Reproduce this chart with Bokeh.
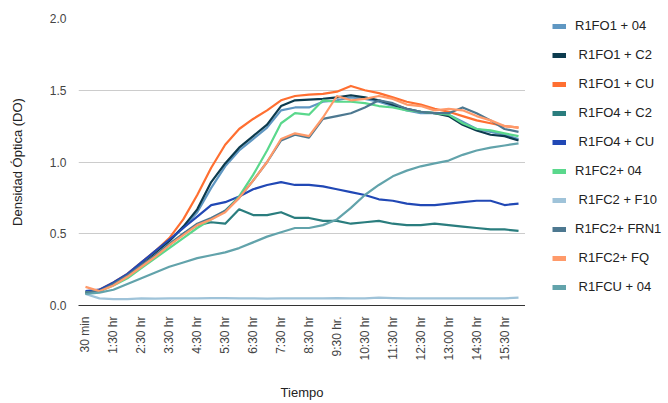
import math
from bokeh.plotting import figure
from bokeh.layouts import row
from bokeh.models import Legend, LegendItem, FixedTicker, NumeralTickFormatter, Range1d, ColumnDataSource
from bokeh.embed import file_html
from bokeh.resources import INLINE

# ---- data ----
TICK_LABELS = ["30 min", "1:30 hr", "2:30 hr", "3:30 hr", "4:30 hr", "5:30 hr", "6:30 hr",
               "7:30 hr", "8:30 hr", "9:30 hr.", "10:30 hr", "11:30 hr", "12:30 hr",
               "13:00 hr", "14:30 hr", "15:30 hr"]

SERIES_NAMES = ["R1FO1 + 04", " R1FO1 + C2", " R1FO1 + CU", " R1FO4 + C2", " R1FO4 + CU",
                "R1FC2+ 04", " R1FC2 + F10", "R1FC2+ FRN1", " R1FC2+ FQ", " R1FCU + 04"]

COLORS = ["#5f97c2", "#0c3b4e", "#ff6f31", "#2a7d7e", "#2148b5",
          "#5ad88c", "#9fc3d9", "#4d7890", "#ff9a6a", "#62a3ab"]

r1fo1_04 = [0.09, 0.10, 0.15, 0.21, 0.29, 0.37, 0.45, 0.54, 0.65, 0.82, 0.97, 1.08, 1.16, 1.24, 1.36, 1.38,
            1.38, 1.42, 1.43, 1.45, 1.44, 1.42, 1.39, 1.36, 1.34, 1.34, 1.33, 1.28, 1.23, 1.21, 1.19, 1.16]
r1fo1_c2 = [0.09, 0.10, 0.15, 0.21, 0.29, 0.37, 0.45, 0.55, 0.67, 0.86, 0.99, 1.10, 1.18, 1.26, 1.39, 1.43,
            1.435, 1.44, 1.45, 1.465, 1.45, 1.43, 1.40, 1.37, 1.35, 1.34, 1.32, 1.26, 1.22, 1.19, 1.18, 1.15]
r1fo1_cu = [0.09, 0.11, 0.16, 0.22, 0.30, 0.38, 0.47, 0.60, 0.77, 0.96, 1.12, 1.23, 1.30, 1.36, 1.43, 1.46,
            1.47, 1.475, 1.49, 1.53, 1.50, 1.48, 1.45, 1.42, 1.40, 1.37, 1.35, 1.32, 1.29, 1.27, 1.25, 1.24]
r1fo4_c2 = [0.08, 0.10, 0.15, 0.21, 0.28, 0.35, 0.42, 0.50, 0.56, 0.58, 0.57, 0.67, 0.63, 0.63, 0.65, 0.61,
            0.61, 0.59, 0.59, 0.57, 0.58, 0.59, 0.57, 0.56, 0.56, 0.57, 0.56, 0.55, 0.54, 0.53, 0.53, 0.52]
r1fo4_cu = [0.10, 0.11, 0.16, 0.22, 0.30, 0.38, 0.46, 0.54, 0.62, 0.70, 0.72, 0.76, 0.81, 0.84, 0.86, 0.84,
            0.84, 0.83, 0.81, 0.79, 0.77, 0.74, 0.73, 0.71, 0.70, 0.70, 0.71, 0.72, 0.73, 0.73, 0.70, 0.71]
r1fc2_04 = [0.09, 0.10, 0.14, 0.19, 0.26, 0.33, 0.40, 0.47, 0.54, 0.60, 0.66, 0.76, 0.91, 1.08, 1.27, 1.34,
            1.33, 1.43, 1.42, 1.42, 1.41, 1.39, 1.38, 1.36, 1.35, 1.34, 1.33, 1.27, 1.23, 1.22, 1.20, 1.18]
r1fc2_f10 = [0.08, 0.05, 0.045, 0.045, 0.05, 0.048, 0.05, 0.05, 0.05, 0.052, 0.052, 0.05, 0.05, 0.048, 0.05, 0.05,
             0.05, 0.05, 0.052, 0.05, 0.05, 0.055, 0.052, 0.05, 0.05, 0.05, 0.05, 0.05, 0.05, 0.05, 0.05, 0.055]
r1fc2_frn1 = [0.09, 0.10, 0.15, 0.21, 0.28, 0.35, 0.43, 0.50, 0.57, 0.61, 0.66, 0.75, 0.87, 1.00, 1.15, 1.19,
              1.17, 1.30, 1.32, 1.34, 1.38, 1.43, 1.41, 1.37, 1.35, 1.34, 1.34, 1.38, 1.34, 1.29, 1.23, 1.21]
r1fc2_fq = [0.13, 0.10, 0.14, 0.20, 0.27, 0.34, 0.42, 0.49, 0.56, 0.60, 0.65, 0.75, 0.87, 1.00, 1.16, 1.20,
            1.18, 1.31, 1.46, 1.43, 1.44, 1.46, 1.44, 1.40, 1.39, 1.36, 1.37, 1.36, 1.32, 1.29, 1.25, 1.24]
r1fcu_04 = [0.08, 0.09, 0.11, 0.15, 0.19, 0.23, 0.27, 0.30, 0.33, 0.35, 0.37, 0.40, 0.44, 0.48, 0.51, 0.54,
            0.54, 0.56, 0.60, 0.68, 0.77, 0.84, 0.90, 0.94, 0.97, 0.99, 1.01, 1.05, 1.08, 1.10, 1.115, 1.13]

SERIES = [r1fo1_04, r1fo1_c2, r1fo1_cu, r1fo4_c2, r1fo4_cu,
          r1fc2_04, r1fc2_f10, r1fc2_frn1, r1fc2_fq, r1fcu_04]

Y_TICKS = [0.0, 0.5, 1.0, 1.5, 2.0]

# ---- main chart ----
n = len(r1fo1_04)
x = list(range(n))
FONT = "Liberation Sans"
H = 402

p = figure(width=525, height=H, output_backend="svg", toolbar_location=None,
           x_range=Range1d(-0.5, n - 0.5), y_range=Range1d(Y_TICKS[0], Y_TICKS[-1]),
           min_border_left=78, min_border_right=0, min_border_top=18, min_border_bottom=97)
p.outline_line_color = None
p.background_fill_color = "white"
p.border_fill_color = "white"

p.xgrid.visible = False
p.ygrid.grid_line_color = "#cccccc"
p.ygrid.grid_line_width = 1

p.yaxis.ticker = FixedTicker(ticks=Y_TICKS)
p.yaxis.formatter = NumeralTickFormatter(format="0.0")
p.yaxis.axis_line_color = None
p.yaxis.major_tick_line_color = None
p.yaxis.minor_tick_line_color = None
p.yaxis.major_label_standoff = 6
p.yaxis.axis_label = "Densidad Óptica (DO)"
p.yaxis.axis_label_standoff = 22

tick_pos = [2 * k for k in range(len(TICK_LABELS))]
p.xaxis.ticker = FixedTicker(ticks=tick_pos)
p.xaxis.major_label_overrides = {t: lab for t, lab in zip(tick_pos, TICK_LABELS)}
p.xaxis.major_label_orientation = math.pi / 2
p.xaxis.axis_line_color = "#333333"
p.xaxis.major_tick_line_color = None
p.xaxis.minor_tick_line_color = None
p.xaxis.major_label_standoff = 5
p.xaxis.axis_label = "Tiempo"
p.xaxis.axis_label_standoff = 21

for ax in (p.xaxis, p.yaxis):
    ax.major_label_text_font = FONT
    ax.major_label_text_font_size = "12px"
    ax.major_label_text_color = "#444444"
    ax.axis_label_text_font = FONT
    ax.axis_label_text_font_size = "13px"
    ax.axis_label_text_font_style = "normal"
    ax.axis_label_text_color = "#222222"

for col, ys in zip(COLORS, SERIES):
    src = ColumnDataSource(dict(x=x, y=ys))
    p.line("x", "y", source=src, line_color=col, line_width=2.2, line_join="round")

# ---- legend panel ----
pl = figure(width=140, height=H, output_backend="svg", toolbar_location=None,
            x_axis_type=None, y_axis_type=None,
            x_range=Range1d(0, 1), y_range=Range1d(0, 1),
            min_border_left=27, min_border_right=0, min_border_top=11, min_border_bottom=0)
pl.outline_line_color = None
pl.grid.visible = False
pl.background_fill_color = "white"
pl.border_fill_color = "white"

nan = float("nan")
items = []
for name, col in zip(SERIES_NAMES, COLORS):
    proxy = pl.line(x=[0, 1], y=[nan, nan], line_color=col, line_width=5)
    items.append(LegendItem(label=name, renderers=[proxy]))

legend = Legend(items=items, location="top_left", orientation="vertical",
                border_line_color=None, background_fill_alpha=0,
                label_text_font=FONT, label_text_font_size="13px", label_text_color="#222222",
                glyph_width=14, glyph_height=14, label_height=14, spacing=14,
                label_standoff=9, padding=0, margin=0)
pl.add_layout(legend, "center")

layout = row(p, pl)
open("out.html", "w").write(file_html(layout, INLINE))
